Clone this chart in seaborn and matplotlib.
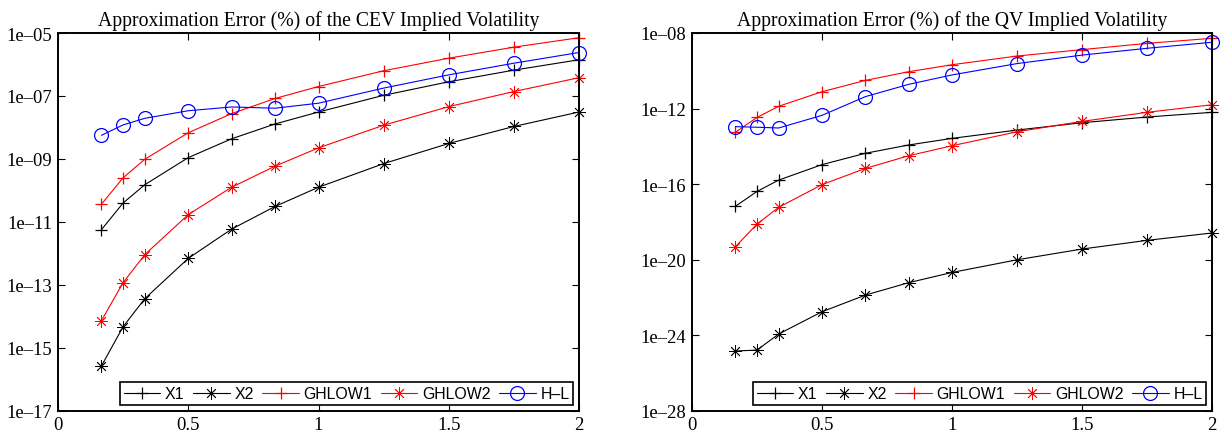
import numpy as np
import pandas as pd
import matplotlib
matplotlib.use("Agg")
import matplotlib.pyplot as plt
import matplotlib.ticker as mticker
import seaborn as sns

# maturities (x axis)
maturity = [1/6, 0.25, 1/3, 0.5, 2/3, 5/6, 1.0, 1.25, 1.5, 1.75, 2.0]
methods = ["X1", "X2", "GHLOW1", "GHLOW2", "H\u2013L"]

# log10 of approximation error
cev_x1 = [-11.25, -10.40, -9.82, -8.96, -8.36, -7.89, -7.51, -6.98, -6.55, -6.18, -5.85]
cev_x2 = [-15.58, -14.33, -13.44, -12.16, -11.23, -10.51, -9.90, -9.15, -8.51, -7.97, -7.51]
cev_gh1 = [-10.44, -9.60, -9.01, -8.17, -7.56, -7.08, -6.70, -6.20, -5.80, -5.45, -5.15]
cev_gh2 = [-14.14, -12.93, -12.04, -10.77, -9.90, -9.23, -8.65, -7.93, -7.34, -6.86, -6.42]
cev_hl = [-8.25, -7.92, -7.71, -7.47, -7.35, -7.39, -7.23, -6.75, -6.33, -5.96, -5.62]

qv_x1 = [-17.18, -16.39, -15.79, -14.97, -14.37, -13.93, -13.58, -13.14, -12.75, -12.45, -12.20]
qv_x2 = [-24.84, -24.79, -23.94, -22.76, -21.88, -21.22, -20.68, -20.01, -19.44, -18.98, -18.59]
qv_gh1 = [-13.26, -12.47, -11.88, -11.11, -10.51, -10.05, -9.68, -9.22, -8.88, -8.55, -8.28]
qv_gh2 = [-19.32, -18.12, -17.23, -16.03, -15.17, -14.50, -13.97, -13.23, -12.68, -12.20, -11.80]
qv_hl = [-12.96, -12.99, -13.03, -12.36, -11.37, -10.72, -10.22, -9.62, -9.17, -8.81, -8.49]

cev_ticks = [-17, -15, -13, -11, -9, -7, -5]
qv_ticks = [-28, -24, -20, -16, -12, -8]

# line styles
styles = {
    "X1": dict(color="black", marker="+", ms=8, mew=0.9),
    "X2": dict(color="black", marker=(8, 2, 0), ms=9, mew=0.6),
    "GHLOW1": dict(color="#ff0000", marker="+", ms=8, mew=0.9),
    "GHLOW2": dict(color="#ff0000", marker=(8, 2, 0), ms=9, mew=0.6),
    "H\u2013L": dict(color="#0000ff", marker="o", ms=10, mew=0.9),
}

sns.set_theme(style="ticks")
plt.rcParams["font.family"] = ["Liberation Serif", "DejaVu Serif"]
plt.rcParams["axes.edgecolor"] = "black"
plt.rcParams["xtick.color"] = "black"
plt.rcParams["ytick.color"] = "black"
plt.rcParams["text.color"] = "black"


def make_frame(series):
    rows = []
    for name, vals in zip(methods, series):
        for xv, lv in zip(maturity, vals):
            rows.append({"maturity": xv, "error": 10.0 ** lv, "method": name})
    return pd.DataFrame(rows)


def fmt(v, pos):
    e = int(round(np.log10(v)))
    return "1e\u2013%02d" % abs(e)


def draw(ax, df, ticks, title):
    for name in methods:
        st = styles[name]
        sub = df[df["method"] == name]
        sns.lineplot(data=sub, x="maturity", y="error", ax=ax, label=name,
                     color=st["color"], marker=st["marker"], markersize=st["ms"],
                     mec=st["color"], mfc="none", mew=st["mew"], lw=0.8,
                     clip_on=False)
    ax.set_yscale("log")
    ax.set_xlim(0, 2)
    ax.set_ylim(10.0 ** ticks[0], 10.0 ** ticks[-1])
    ax.yaxis.set_major_locator(mticker.FixedLocator([10.0 ** t for t in ticks]))
    ax.yaxis.set_minor_locator(mticker.NullLocator())
    ax.yaxis.set_major_formatter(mticker.FuncFormatter(fmt))
    ax.xaxis.set_major_locator(mticker.FixedLocator([0, 0.5, 1, 1.5, 2]))
    ax.xaxis.set_major_formatter(mticker.FuncFormatter(lambda v, p: "%g" % v))
    ax.tick_params(direction="in", top=True, right=True, length=5, width=0.8,
                   labelsize=13.4, pad=4)
    ax.set_xlabel("")
    ax.set_ylabel("")
    for s in ax.spines.values():
        s.set_linewidth(1.4)
        s.set_visible(True)
        s.set_color("black")
    ax.set_title(title, fontsize=14.2, pad=6)
    leg = ax.legend(ncol=5, loc="lower right", fancybox=False, framealpha=1,
                    edgecolor="black", borderaxespad=0.35, handlelength=2.3,
                    handletextpad=0.3, columnspacing=0.55, borderpad=0.25,
                    numpoints=1,
                    prop={"family": ["Liberation Sans", "DejaVu Sans"], "size": 11.4})
    leg.get_frame().set_linewidth(1.2)


fig = plt.figure(figsize=(12.21, 4.39), dpi=100)
ax1 = fig.add_axes([58 / 1221, 1 - 411.7 / 439, 521 / 1221, 377.7 / 439])
ax2 = fig.add_axes([692 / 1221, 1 - 411.7 / 439, 520 / 1221, 377.7 / 439])

draw(ax1, make_frame([cev_x1, cev_x2, cev_gh1, cev_gh2, cev_hl]), cev_ticks,
     "Approximation Error (%) of the CEV Implied Volatility")
draw(ax2, make_frame([qv_x1, qv_x2, qv_gh1, qv_gh2, qv_hl]), qv_ticks,
     "Approximation Error (%) of the QV Implied Volatility")

fig.savefig("out.png", dpi=100)
